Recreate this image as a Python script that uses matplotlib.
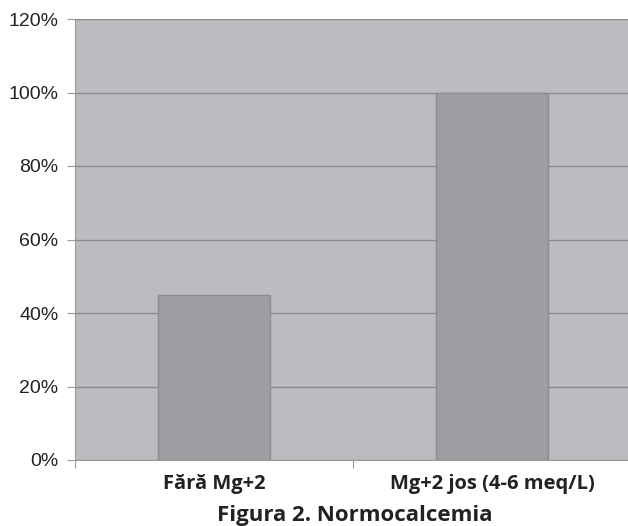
import matplotlib.pyplot as plt
from matplotlib import font_manager
from matplotlib.ticker import PercentFormatter

categories = ["Fără Mg+2", "Mg+2 jos (4-6 meq/L)"]
values = [45, 100]
yticks = [0, 20, 40, 60, 80, 100, 120]

names = {f.name for f in font_manager.fontManager.ttflist}
cond = "Liberation Sans Narrow" if "Liberation Sans Narrow" in names else "Open Sans"

fig = plt.figure(figsize=(6.28, 5.26), dpi=100)
ax = fig.add_axes([75 / 628, 66 / 526, 556 / 628, 441 / 526])
ax.set_facecolor("#bbbcc0")

x = range(len(categories))
ax.bar(x, values, width=0.4, color="#9d9ea2", edgecolor="#8c8d91", linewidth=1, zorder=3)

ax.set_xlim(-0.5, 1.5)
ax.set_ylim(0, 120)
ax.set_yticks(yticks)
ax.yaxis.set_major_formatter(PercentFormatter(decimals=0))
ax.grid(axis="y", color="#8a8a8c", linewidth=1, zorder=1)

ax.set_xticks([-0.5, 0.5, 1.5])
ax.set_xticklabels([])
ax.set_xticks(list(x), minor=True)
ax.set_xticklabels(categories, minor=True, fontsize=14.5, fontweight="bold",
                   family=cond, color="#222222")
ax.tick_params(axis="x", which="minor", length=0, pad=10)
ax.tick_params(axis="x", which="major", length=6, color="#9a9a9a")
ax.tick_params(axis="y", length=6, color="#9a9a9a", labelsize=14, pad=6,
               labelcolor="#222222")
for lbl in ax.get_yticklabels():
    lbl.set_family("Liberation Sans")

for s in ["top", "right"]:
    ax.spines[s].set_visible(False)
ax.spines["left"].set_color("#9a9a9a")
ax.spines["bottom"].set_color("#9a9a9a")

fig.text(355 / 628, 1 - 515 / 526, "Figura 2. Normocalcemia", ha="center", va="center",
         fontsize=16, fontweight="bold", family=cond, color="#222222")

fig.savefig("out.png", dpi=100)
